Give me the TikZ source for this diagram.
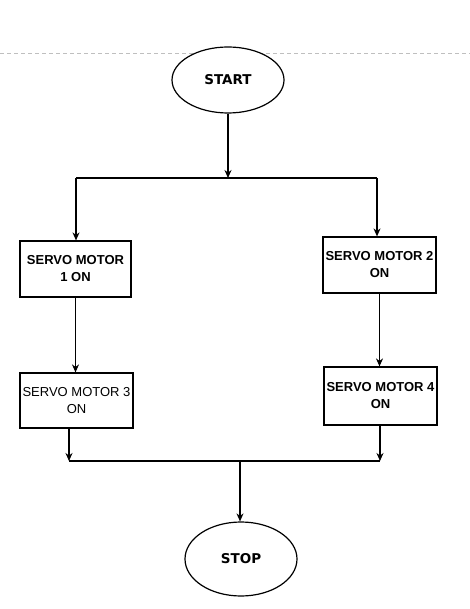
\documentclass[tikz,border=0pt]{standalone}
\usepackage{fontspec}
\setmainfont{Liberation Sans}
\newfontfamily\termfont{DejaVu Sans}
\usetikzlibrary{shapes.geometric,arrows.meta}
\begin{document}
\begin{tikzpicture}[x=1pt,y=-1pt,
  line width=1.2pt,
  terminal/.style={ellipse,draw,fill=white,inner sep=0pt,font=\termfont\bfseries\fontsize{13.5}{15}\selectfont},
  stepbox/.style={rectangle,draw,fill=white,inner sep=0pt,align=center,font=\fontsize{13}{17}\selectfont},
  boldbox/.style={stepbox,font=\bfseries\fontsize{13}{17}\selectfont},
  arr/.style={-{Stealth[length=8pt,width=7pt]}}]
\useasboundingbox (0,0) rectangle (470,609);
\fill[white] (0,0) rectangle (470,609);
\draw[line width=0.8pt,color=black!25,dash pattern=on 4pt off 3pt] (0,53) -- (470,53);

\node[terminal,minimum width=112pt,minimum height=66pt] (start) at (228,80) {START};
\node[boldbox,minimum width=111pt,minimum height=56pt] (b1) at (75.5,269) {SERVO MOTOR\\1 ON};
\node[boldbox,minimum width=113pt,minimum height=56pt] (b2) at (379.5,265) {SERVO MOTOR 2\\ON};
\node[stepbox,minimum width=113pt,minimum height=55pt] (b3) at (76.5,400.5) {SERVO MOTOR 3\\ON};
\node[boldbox,minimum width=113pt,minimum height=58pt] (b4) at (380.5,396) {SERVO MOTOR 4\\ON};
\node[terminal,minimum width=112pt,minimum height=74pt] (stop) at (241,559) {STOP};

\coordinate (j1) at (228,178);
\coordinate (l1) at (76,178);
\coordinate (r1) at (377,178);
\coordinate (l2) at (69,461);
\coordinate (r2) at (380,461);
\coordinate (m2) at (240,461);

\draw[arr] (start) -- (j1);
\draw (l1) -- (r1);
\draw[arr] (l1) -- (l1 |- b1.north);
\draw[arr] (r1) -- (r1 |- b2.north);
\draw[arr] (b1.south) -- (b1.south |- b3.north);
\draw[arr] (b2.south) -- (b2.south |- b4.north);
\draw[arr] (l2 |- b3.south) -- (l2);
\draw[arr] (r2 |- b4.south) -- (r2);
\draw (l2) -- (r2);
\draw[arr] (m2) -- (m2 |- stop.north);
\end{tikzpicture}
\end{document}
